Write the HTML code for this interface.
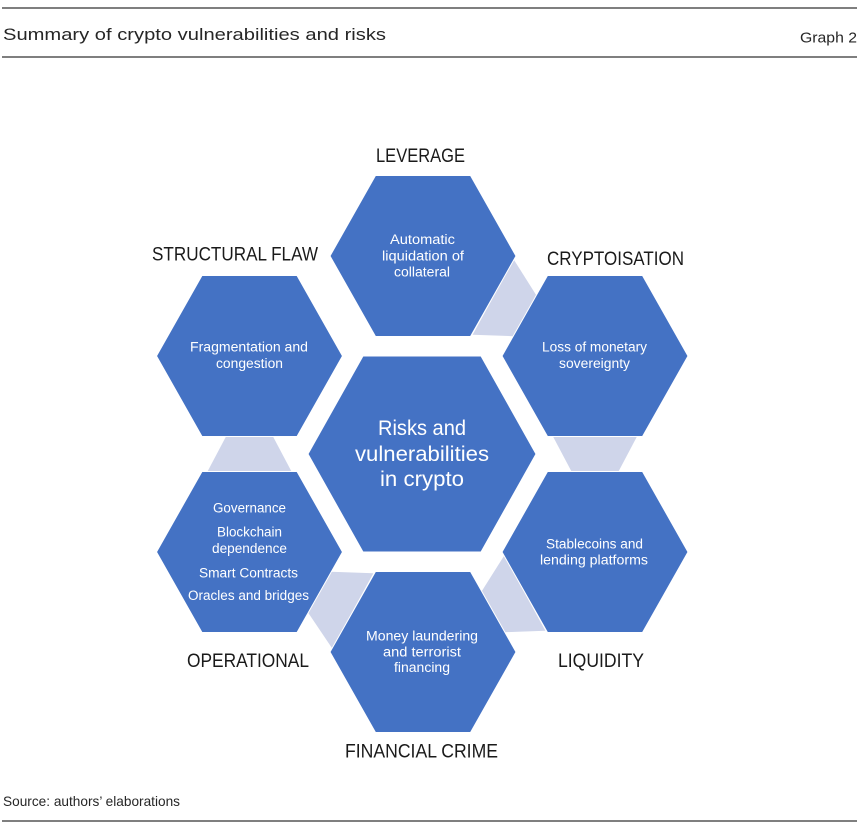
<!DOCTYPE html>
<html>
<head>
<meta charset="utf-8">
<style>
  html, body { margin: 0; padding: 0; background: #ffffff; }
  body { width: 865px; height: 831px; overflow: hidden; }
  svg { display: block; }
  text { font-family: "Liberation Sans", "DejaVu Sans", sans-serif; }
</style>
</head>
<body>
<svg width="865" height="831" viewBox="0 0 865 831" xmlns="http://www.w3.org/2000/svg">
  <rect x="0" y="0" width="865" height="831" fill="#ffffff"/>

  <!-- Header -->
  <line x1="2" y1="8" x2="857" y2="8" stroke="#7f7f7f" stroke-width="2"/>
  <text x="3" y="40" font-size="17" fill="#262626" textLength="383" lengthAdjust="spacingAndGlyphs">Summary of crypto vulnerabilities and risks</text>
  <text x="800" y="42.5" font-size="15" fill="#262626" textLength="57" lengthAdjust="spacingAndGlyphs">Graph 2</text>
  <line x1="2" y1="57" x2="857" y2="57" stroke="#7f7f7f" stroke-width="2"/>

  <!-- Connectors -->
  <g fill="#cfd5ea">
    <polygon points="513.9,259.7 536.3,295.3 513.2,336.2 472.6,334.8"/>
    <polygon points="553,436.5 637,436.5 618.5,471.5 571.5,471.5"/>
    <polygon points="504.1,555.7 545.4,630.8 504.8,632.2 481.7,591.3"/>
    <polygon points="373.4,573.2 332.1,648.3 308.2,612.7 331.3,571.8"/>
    <polygon points="207.5,471.5 291.5,471.5 273,436.5 226,436.5"/>
  </g>

  <!-- Hexagons -->
  <g fill="#4472c4" stroke="#ffffff" stroke-width="1">
    <!-- Leverage (423,256) -->
    <polygon points="375.5,175.5 470.5,175.5 516,256 470.5,336.5 375.5,336.5 330,256"/>
    <!-- Cryptoisation (595,356) -->
    <polygon points="547.5,275.5 642.5,275.5 688,356 642.5,436.5 547.5,436.5 502,356"/>
    <!-- Liquidity (595,552) -->
    <polygon points="547.5,471.5 642.5,471.5 688,552 642.5,632.5 547.5,632.5 502,552"/>
    <!-- Financial crime (423,652) -->
    <polygon points="375.5,571.5 470.5,571.5 516,652 470.5,732.5 375.5,732.5 330,652"/>
    <!-- Operational (249.5,552) -->
    <polygon points="202,471.5 297,471.5 342.5,552 297,632.5 202,632.5 156.5,552"/>
    <!-- Structural flaw (249.5,356) -->
    <polygon points="202,275.5 297,275.5 342.5,356 297,436.5 202,436.5 156.5,356"/>
    <!-- Center (422,454) -->
    <polygon points="363,356 481,356 536,454 481,552 363,552 308,454"/>
  </g>

  <!-- Category labels -->
  <g font-size="19" fill="#1a1a1a">
    <text x="376" y="162" textLength="89" lengthAdjust="spacingAndGlyphs">LEVERAGE</text>
    <text x="152" y="260.5" textLength="166" lengthAdjust="spacingAndGlyphs">STRUCTURAL FLAW</text>
    <text x="547" y="265" textLength="137" lengthAdjust="spacingAndGlyphs">CRYPTOISATION</text>
    <text x="558" y="667" textLength="86" lengthAdjust="spacingAndGlyphs">LIQUIDITY</text>
    <text x="187" y="667" textLength="122" lengthAdjust="spacingAndGlyphs">OPERATIONAL</text>
    <text x="345" y="757.5" textLength="153" lengthAdjust="spacingAndGlyphs">FINANCIAL CRIME</text>
  </g>

  <!-- Hexagon texts -->
  <g font-size="13.5" fill="#ffffff" text-anchor="middle">
    <!-- Leverage -->
    <text x="422.5" y="244" textLength="65" lengthAdjust="spacingAndGlyphs">Automatic</text>
    <text x="423" y="260.5" textLength="82" lengthAdjust="spacingAndGlyphs">liquidation of</text>
    <text x="422" y="276.5" textLength="56" lengthAdjust="spacingAndGlyphs">collateral</text>
    <!-- Structural -->
    <text x="249" y="351.5" textLength="118" lengthAdjust="spacingAndGlyphs">Fragmentation and</text>
    <text x="249.5" y="368" textLength="67" lengthAdjust="spacingAndGlyphs">congestion</text>
    <!-- Cryptoisation -->
    <text x="594.5" y="351.5" textLength="105" lengthAdjust="spacingAndGlyphs">Loss of monetary</text>
    <text x="594.5" y="368" textLength="71" lengthAdjust="spacingAndGlyphs">sovereignty</text>
    <!-- Liquidity -->
    <text x="594.5" y="548.5" textLength="97" lengthAdjust="spacingAndGlyphs">Stablecoins and</text>
    <text x="594" y="564.5" textLength="108" lengthAdjust="spacingAndGlyphs">lending platforms</text>
    <!-- Operational -->
    <text x="249.5" y="512.5" textLength="73" lengthAdjust="spacingAndGlyphs">Governance</text>
    <text x="249.5" y="536.5" textLength="65" lengthAdjust="spacingAndGlyphs">Blockchain</text>
    <text x="249.5" y="553" textLength="75" lengthAdjust="spacingAndGlyphs">dependence</text>
    <text x="248.5" y="577.5" textLength="99" lengthAdjust="spacingAndGlyphs">Smart Contracts</text>
    <text x="248.5" y="600" textLength="121" lengthAdjust="spacingAndGlyphs">Oracles and bridges</text>
    <!-- Financial crime -->
    <text x="422" y="640.5" textLength="112" lengthAdjust="spacingAndGlyphs">Money laundering</text>
    <text x="422" y="656.5" textLength="78" lengthAdjust="spacingAndGlyphs">and terrorist</text>
    <text x="422" y="672" textLength="56" lengthAdjust="spacingAndGlyphs">financing</text>
  </g>

  <!-- Center text -->
  <g font-size="21" fill="#ffffff" text-anchor="middle">
    <text x="422" y="435" textLength="88" lengthAdjust="spacingAndGlyphs">Risks and</text>
    <text x="422" y="461" textLength="134" lengthAdjust="spacingAndGlyphs">vulnerabilities</text>
    <text x="422" y="486" textLength="84" lengthAdjust="spacingAndGlyphs">in crypto</text>
  </g>

  <!-- Footer -->
  <text x="3" y="806" font-size="14" fill="#262626" textLength="177" lengthAdjust="spacingAndGlyphs">Source: authors’ elaborations</text>
  <line x1="2" y1="821" x2="857" y2="821" stroke="#7f7f7f" stroke-width="2"/>
</svg>
</body>
</html>
